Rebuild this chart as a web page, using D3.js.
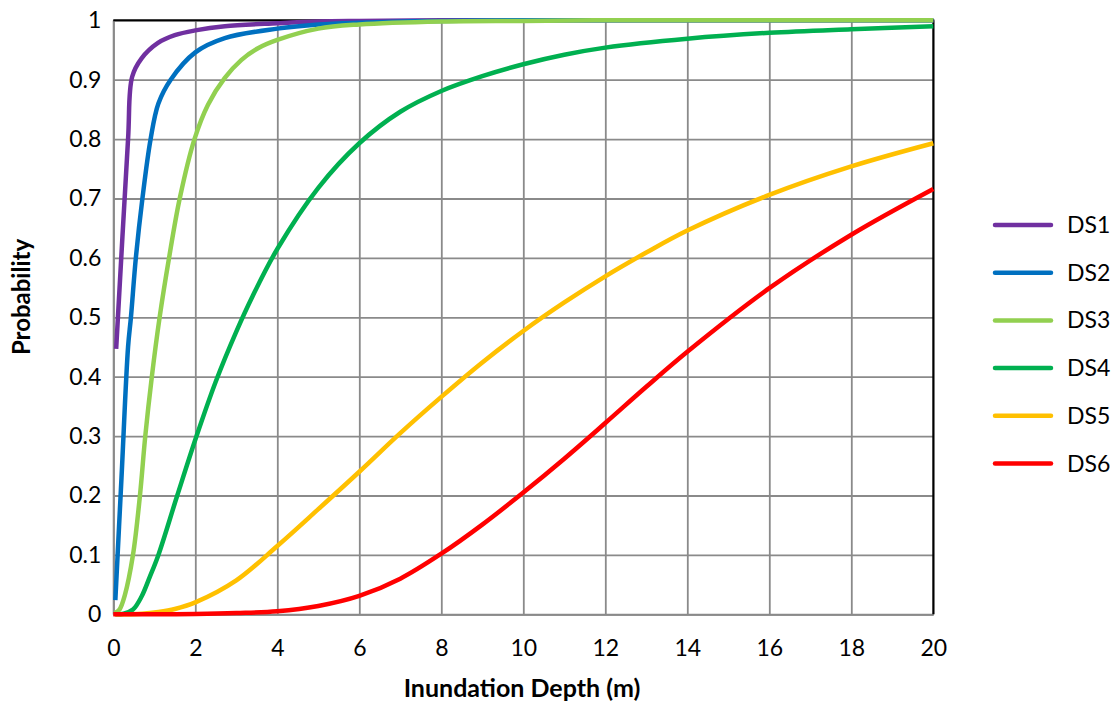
<!DOCTYPE html>
<html>
<head>
<meta charset="utf-8">
<script src="https://cdn.jsdelivr.net/npm/d3@7"></script>
<style>
  html, body { margin: 0; padding: 0; background: #ffffff; }
  svg { display: block; }
  text { font-family: Lato, "Open Sans", "Liberation Sans", sans-serif; fill: #000; }
</style>
</head>
<body>
<svg id="chart" width="1113" height="706"></svg>
<script>
// Fragility curves: probability of reaching each damage state vs inundation depth
const seriesNames = ["DS1", "DS2", "DS3", "DS4", "DS5", "DS6"];
const seriesColors = ["#7030A0", "#0070C0", "#92D050", "#00B050", "#FFC000", "#FF0000"];

const ds1Depth = [0.07, 0.36, 0.46, 0.69, 1.09, 1.5, 2, 2.72, 4, 5, 6, 8, 10, 12, 14, 16, 18, 20];
const ds1Prob  = [0.447, 0.8, 0.905, 0.936, 0.962, 0.975, 0.983, 0.99, 0.995, 0.998, 0.999, 1, 1, 1, 1, 1, 1, 1];

const ds2Depth = [0.05, 0.2, 0.36, 0.43, 0.55, 0.71, 0.91, 1.1, 1.4, 2, 2.72, 4, 5, 6, 8, 10, 12, 14, 16, 18, 20];
const ds2Prob  = [0.024, 0.23, 0.45, 0.5, 0.6, 0.7, 0.8, 0.86, 0.9, 0.946, 0.97, 0.986, 0.993, 0.996, 0.999, 1, 1, 1, 1, 1, 1];

const ds3Depth = [0.03, 0.15, 0.28, 0.48, 0.65, 0.78, 0.94, 1.13, 1.36, 1.62, 1.98, 2.31, 2.72, 3.12, 3.53, 4, 5, 6, 8, 10, 12, 14, 16, 18, 20];
const ds3Prob  = [0.002, 0.008, 0.032, 0.1, 0.2, 0.3, 0.4, 0.5, 0.6, 0.7, 0.8, 0.858, 0.903, 0.933, 0.953, 0.967, 0.986, 0.993, 0.998, 0.999, 1, 1, 1, 1, 1];

const ds4Depth = [0.05, 0.25, 0.48, 0.69, 0.89, 1.1, 1.56, 2.02, 2.5, 3.0, 3.4, 4, 5, 6, 7, 8, 9, 10, 11, 12, 14, 16, 18, 20];
const ds4Prob  = [0, 0.001, 0.008, 0.03, 0.063, 0.1, 0.2, 0.298, 0.392, 0.476, 0.536, 0.615, 0.718, 0.793, 0.846, 0.881, 0.906, 0.926, 0.942, 0.954, 0.969, 0.979, 0.985, 0.99];

const ds5Depth = [0.05, 0.7, 1.1, 1.5, 2, 3, 4, 5, 6, 7, 8, 9, 10, 11, 12, 13, 14, 16, 18, 20];
const ds5Prob  = [0, 0.001, 0.004, 0.009, 0.02, 0.057, 0.115, 0.177, 0.24, 0.305, 0.366, 0.424, 0.477, 0.525, 0.569, 0.609, 0.646, 0.706, 0.754, 0.793];

const ds6Depth = [0, 1, 2, 3, 4, 5, 6, 7, 8, 9, 10, 11, 12, 13, 14, 16, 18, 20];
const ds6Prob  = [0, 0, 0.0005, 0.002, 0.005, 0.014, 0.031, 0.06, 0.102, 0.151, 0.205, 0.262, 0.322, 0.383, 0.442, 0.549, 0.639, 0.716];

const xTickValues = [0, 2, 4, 6, 8, 10, 12, 14, 16, 18, 20];
const yTickValues = [0, 0.1, 0.2, 0.3, 0.4, 0.5, 0.6, 0.7, 0.8, 0.9, 1];
const yTickLabels = ["0", "0.1", "0.2", "0.3", "0.4", "0.5", "0.6", "0.7", "0.8", "0.9", "1"];

const xTitle = "Inundation Depth (m)";
const yTitle = "Probability";

const depths = [ds1Depth, ds2Depth, ds3Depth, ds4Depth, ds5Depth, ds6Depth];
const probs  = [ds1Prob, ds2Prob, ds3Prob, ds4Prob, ds5Prob, ds6Prob];
const series = seriesNames.map((name, i) => ({
  name,
  color: seriesColors[i],
  points: depths[i].map((d, j) => ({ depth: d, prob: probs[i][j] }))
}));

const svg = d3.select("#chart");
const plot = { left: 113.3, right: 933.3, top: 20.3, bottom: 614.3 };

const x = d3.scaleLinear().domain([0, 20]).range([plot.left, plot.right]);
const y = d3.scaleLinear().domain([0, 1]).range([plot.bottom, plot.top]);

const gridColor = "#8a8a8a";
const labelFont = "Lato, sans-serif";

// vertical grid + x tick labels
const xAxis = svg.append("g")
  .attr("transform", `translate(0,${plot.bottom})`)
  .call(d3.axisBottom(x).tickValues(xTickValues)
    .tickSize(-(plot.bottom - plot.top)).tickSizeOuter(0).tickPadding(25)
    .tickFormat(d3.format("d")));
xAxis.select(".domain").attr("stroke", gridColor).attr("stroke-width", 2);
xAxis.selectAll(".tick line").attr("stroke", gridColor).attr("stroke-width", 1.8);
xAxis.selectAll(".tick text").attr("font-size", 23).attr("font-family", labelFont);

// horizontal grid + y tick labels
const yAxis = svg.append("g")
  .attr("transform", `translate(${plot.left},0)`)
  .call(d3.axisLeft(y).tickValues(yTickValues)
    .tickSize(-(plot.right - plot.left)).tickSizeOuter(0).tickPadding(12)
    .tickFormat((d, i) => yTickLabels[i]));
yAxis.select(".domain").attr("stroke", gridColor).attr("stroke-width", 2);
yAxis.selectAll(".tick line").attr("stroke", gridColor).attr("stroke-width", 1.8);
yAxis.selectAll(".tick text").attr("font-size", 23).attr("font-family", labelFont);

// top and right frame
svg.append("path")
  .attr("d", `M${plot.left},${plot.top}H${plot.right}V${plot.bottom}`)
  .attr("fill", "none").attr("stroke", "#000").attr("stroke-width", 2);

// curves
const line = d3.line()
  .x(d => x(d.depth))
  .y(d => y(d.prob))
  .curve(d3.curveCatmullRom.alpha(0.5));

svg.append("g").selectAll("path")
  .data(series)
  .join("path")
  .attr("d", d => line(d.points))
  .attr("fill", "none")
  .attr("stroke", d => d.color)
  .attr("stroke-width", 4.5)
  .attr("stroke-linejoin", "round");

// axis titles
svg.append("text")
  .attr("x", 522)
  .attr("y", 697)
  .attr("text-anchor", "middle")
  .attr("font-size", 25)
  .attr("font-weight", "bold")
  .text(xTitle);

svg.append("text")
  .attr("transform", "translate(30,297) rotate(-90)")
  .attr("text-anchor", "middle")
  .attr("font-size", 24)
  .attr("font-weight", "bold")
  .text(yTitle);

// legend
const legend = svg.append("g").selectAll("g")
  .data(series)
  .join("g")
  .attr("transform", (d, i) => `translate(995,${225 + i * 47.7})`);

legend.append("line")
  .attr("x1", 0).attr("x2", 56)
  .attr("stroke", d => d.color)
  .attr("stroke-width", 4.5)
  .attr("stroke-linecap", "round");

legend.append("text")
  .attr("x", 72)
  .attr("dy", "0.35em")
  .attr("font-size", 23)
  .text(d => d.name);
</script>
</body>
</html>
